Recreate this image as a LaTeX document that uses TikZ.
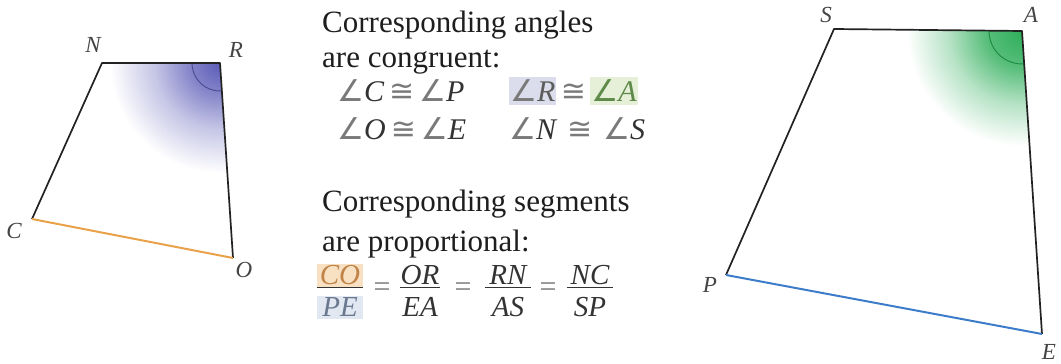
\documentclass[tikz,border=0pt]{standalone}
\usepackage{fontspec}
\setmainfont{Liberation Serif}
\newfontfamily\serf{Liberation Serif}
\newfontfamily\symf{DejaVu Sans}
\usetikzlibrary{angles}
\definecolor{edgec}{HTML}{222222}
\definecolor{txtc}{HTML}{1E1E1E}
\definecolor{mthc}{HTML}{333333}
\definecolor{symc}{HTML}{7A7A7A}
\definecolor{lblc}{HTML}{444444}
\definecolor{orng}{HTML}{E9A24A}
\definecolor{bluel}{HTML}{3D7CC9}
\definecolor{violet}{HTML}{5C5CB8}
\definecolor{arcB}{HTML}{4A4A8C}
\definecolor{grn}{HTML}{2FAE5A}
\definecolor{arcG}{HTML}{1A8A40}
\definecolor{hlBfill}{HTML}{DCDDEC}
\definecolor{hlGfill}{HTML}{E6F0D8}
\definecolor{hlGtext}{HTML}{5E8A4A}
\definecolor{hlOfill}{HTML}{F8E0C2}
\definecolor{hlOtext}{HTML}{C08448}
\definecolor{hlPfill}{HTML}{E2E8F2}
\definecolor{hlPtext}{HTML}{6A7890}
\pgfdeclareradialshading{fadeB}{\pgfpoint{0bp}{0bp}}{color(0bp)=(violet); color(7bp)=(violet!75!white); color(15bp)=(violet!35!white); color(25bp)=(white); color(50bp)=(white)}
\pgfdeclareradialshading{fadeG}{\pgfpoint{0bp}{0bp}}{color(0bp)=(grn); color(8bp)=(grn!80!white); color(16bp)=(grn!35!white); color(25bp)=(white); color(50bp)=(white)}
\newcommand\ang{{\symf ∠}}
\newcommand\cng{{\symf ≅}}
\begin{document}
\begin{tikzpicture}[x=1pt,y=1pt,
  edge/.style={draw=edgec, line width=1.7pt, line join=round},
  lbl/.style={font=\serf\fontsize{23}{25}\selectfont\itshape, text=lblc, inner sep=0},
  txt/.style={font=\serf\fontsize{31}{33}\selectfont, text=txtc, inner sep=0, anchor=base west},
  mth/.style={font=\serf\fontsize{30}{32}\selectfont\itshape, text=mthc, inner sep=0, anchor=base west},
  hl/.style={mth, inner xsep=1pt, inner ysep=3pt},
  frn/.style={font=\serf\fontsize{29}{31}\selectfont\itshape, text=mthc, inner xsep=0, inner ysep=2pt, anchor=base, minimum width=#1},
  bar/.style={draw=mthc, line width=0.9pt},
  eq/.style={font=\serf\fontsize{30}{32}\selectfont, text=symc, inner sep=0}
]
\useasboundingbox (0,0) rectangle (1061,364);

% ---------- left quadrilateral CORN ----------
\coordinate (N) at (102,301);
\coordinate (R) at (220,301);
\coordinate (O) at (233,106);
\coordinate (C) at (32,145);
\begin{scope}
  \clip (N) -- (R) -- (O) -- (C) -- cycle;
  \shade[shading=fadeB] (R) circle (110);
\end{scope}
\pic[draw=arcB, line width=0.9pt, angle radius=28pt] {angle = N--R--O};
\draw[edge] (C) -- (N) -- (R) -- (O);
\draw[draw=orng, line width=2pt] (C) -- (O);
\node[lbl] (lN) at (93,319) {N};
\node[lbl] (lR) at (236,314) {R};
\node[lbl] (lC) at (14,133) {C};
\node[lbl] (lO) at (244,94) {O};

% ---------- right quadrilateral SAEP ----------
\coordinate (S) at (834,335);
\coordinate (A) at (1022,333);
\coordinate (E) at (1042,30);
\coordinate (P) at (726,89);
\begin{scope}
  \clip (S) -- (A) -- (E) -- (P) -- cycle;
  \shade[shading=fadeG] (A) circle (115);
\end{scope}
\pic[draw=arcG, line width=0.9pt, angle radius=33pt] {angle = S--A--E};
\draw[edge] (P) -- (S) -- (A) -- (E);
\draw[draw=bluel, line width=2pt] (P) -- (E);
\node[lbl] (lS) at (826,349) {S};
\node[lbl] (lA) at (1031,349) {A};
\node[lbl] (lP) at (710,79) {P};
\node[lbl] (lE) at (1049,12) {E};

% ---------- angle text ----------
\node[txt] (t1) at (322,331) {Corresponding angles};
\node[txt] (t2) at (322,296) {are congruent:};
\node[mth] (r1a) at (337,262) {\textcolor{symc}{\ang}C\,\textcolor{symc}{\cng}\,\textcolor{symc}{\ang}P};
\node[hl, fill=hlBfill, text=mthc!80!white] (r1b) at (509,262) {\textcolor{symc}{\ang}R};
\node[mth, text=symc] (r1c) at ([xshift=4pt]r1b.base east) {\cng};
\node[hl, fill=hlGfill, text=hlGtext] (r1d) at ([xshift=4pt]r1c.base east) {\ang A};
\node[mth] (r2a) at (337,224) {\textcolor{symc}{\ang}O\,\textcolor{symc}{\cng}\,\textcolor{symc}{\ang}E};
\node[mth] (r2b) at (509,224) {\textcolor{symc}{\ang}N\hspace{11pt}\textcolor{symc}{\cng}\hspace{11pt}\textcolor{symc}{\ang}S};

% ---------- segment text ----------
\node[txt] (t3) at (322,152) {Corresponding segments};
\node[txt] (t4) at (322,112) {are proportional:};

\node[frn=46pt, fill=hlOfill, text=hlOtext] (f1n) at (340,79) {CO};
\node[frn=46pt, fill=hlPfill, text=hlPtext] (f1d) at (340,47) {PE};
\draw[bar] (f1n.south west) -- (f1n.south east);
\node[eq] (e1) at (382,74) {=};
\node[frn=36pt] (f2n) at (420,79) {OR};
\node[frn=36pt] (f2d) at (420,47) {EA};
\draw[bar] (f2n.south west) -- (f2n.south east);
\node[eq] (e2) at (463,74) {=};
\node[frn=46pt] (f3n) at (508,79) {RN};
\node[frn=46pt] (f3d) at (508,47) {AS};
\draw[bar] (f3n.south west) -- (f3n.south east);
\node[eq] (e3) at (548,74) {=};
\node[frn=46pt] (f4n) at (590,79) {NC};
\node[frn=46pt] (f4d) at (590,47) {SP};
\draw[bar] (f4n.south west) -- (f4n.south east);
\end{tikzpicture}
\end{document}
